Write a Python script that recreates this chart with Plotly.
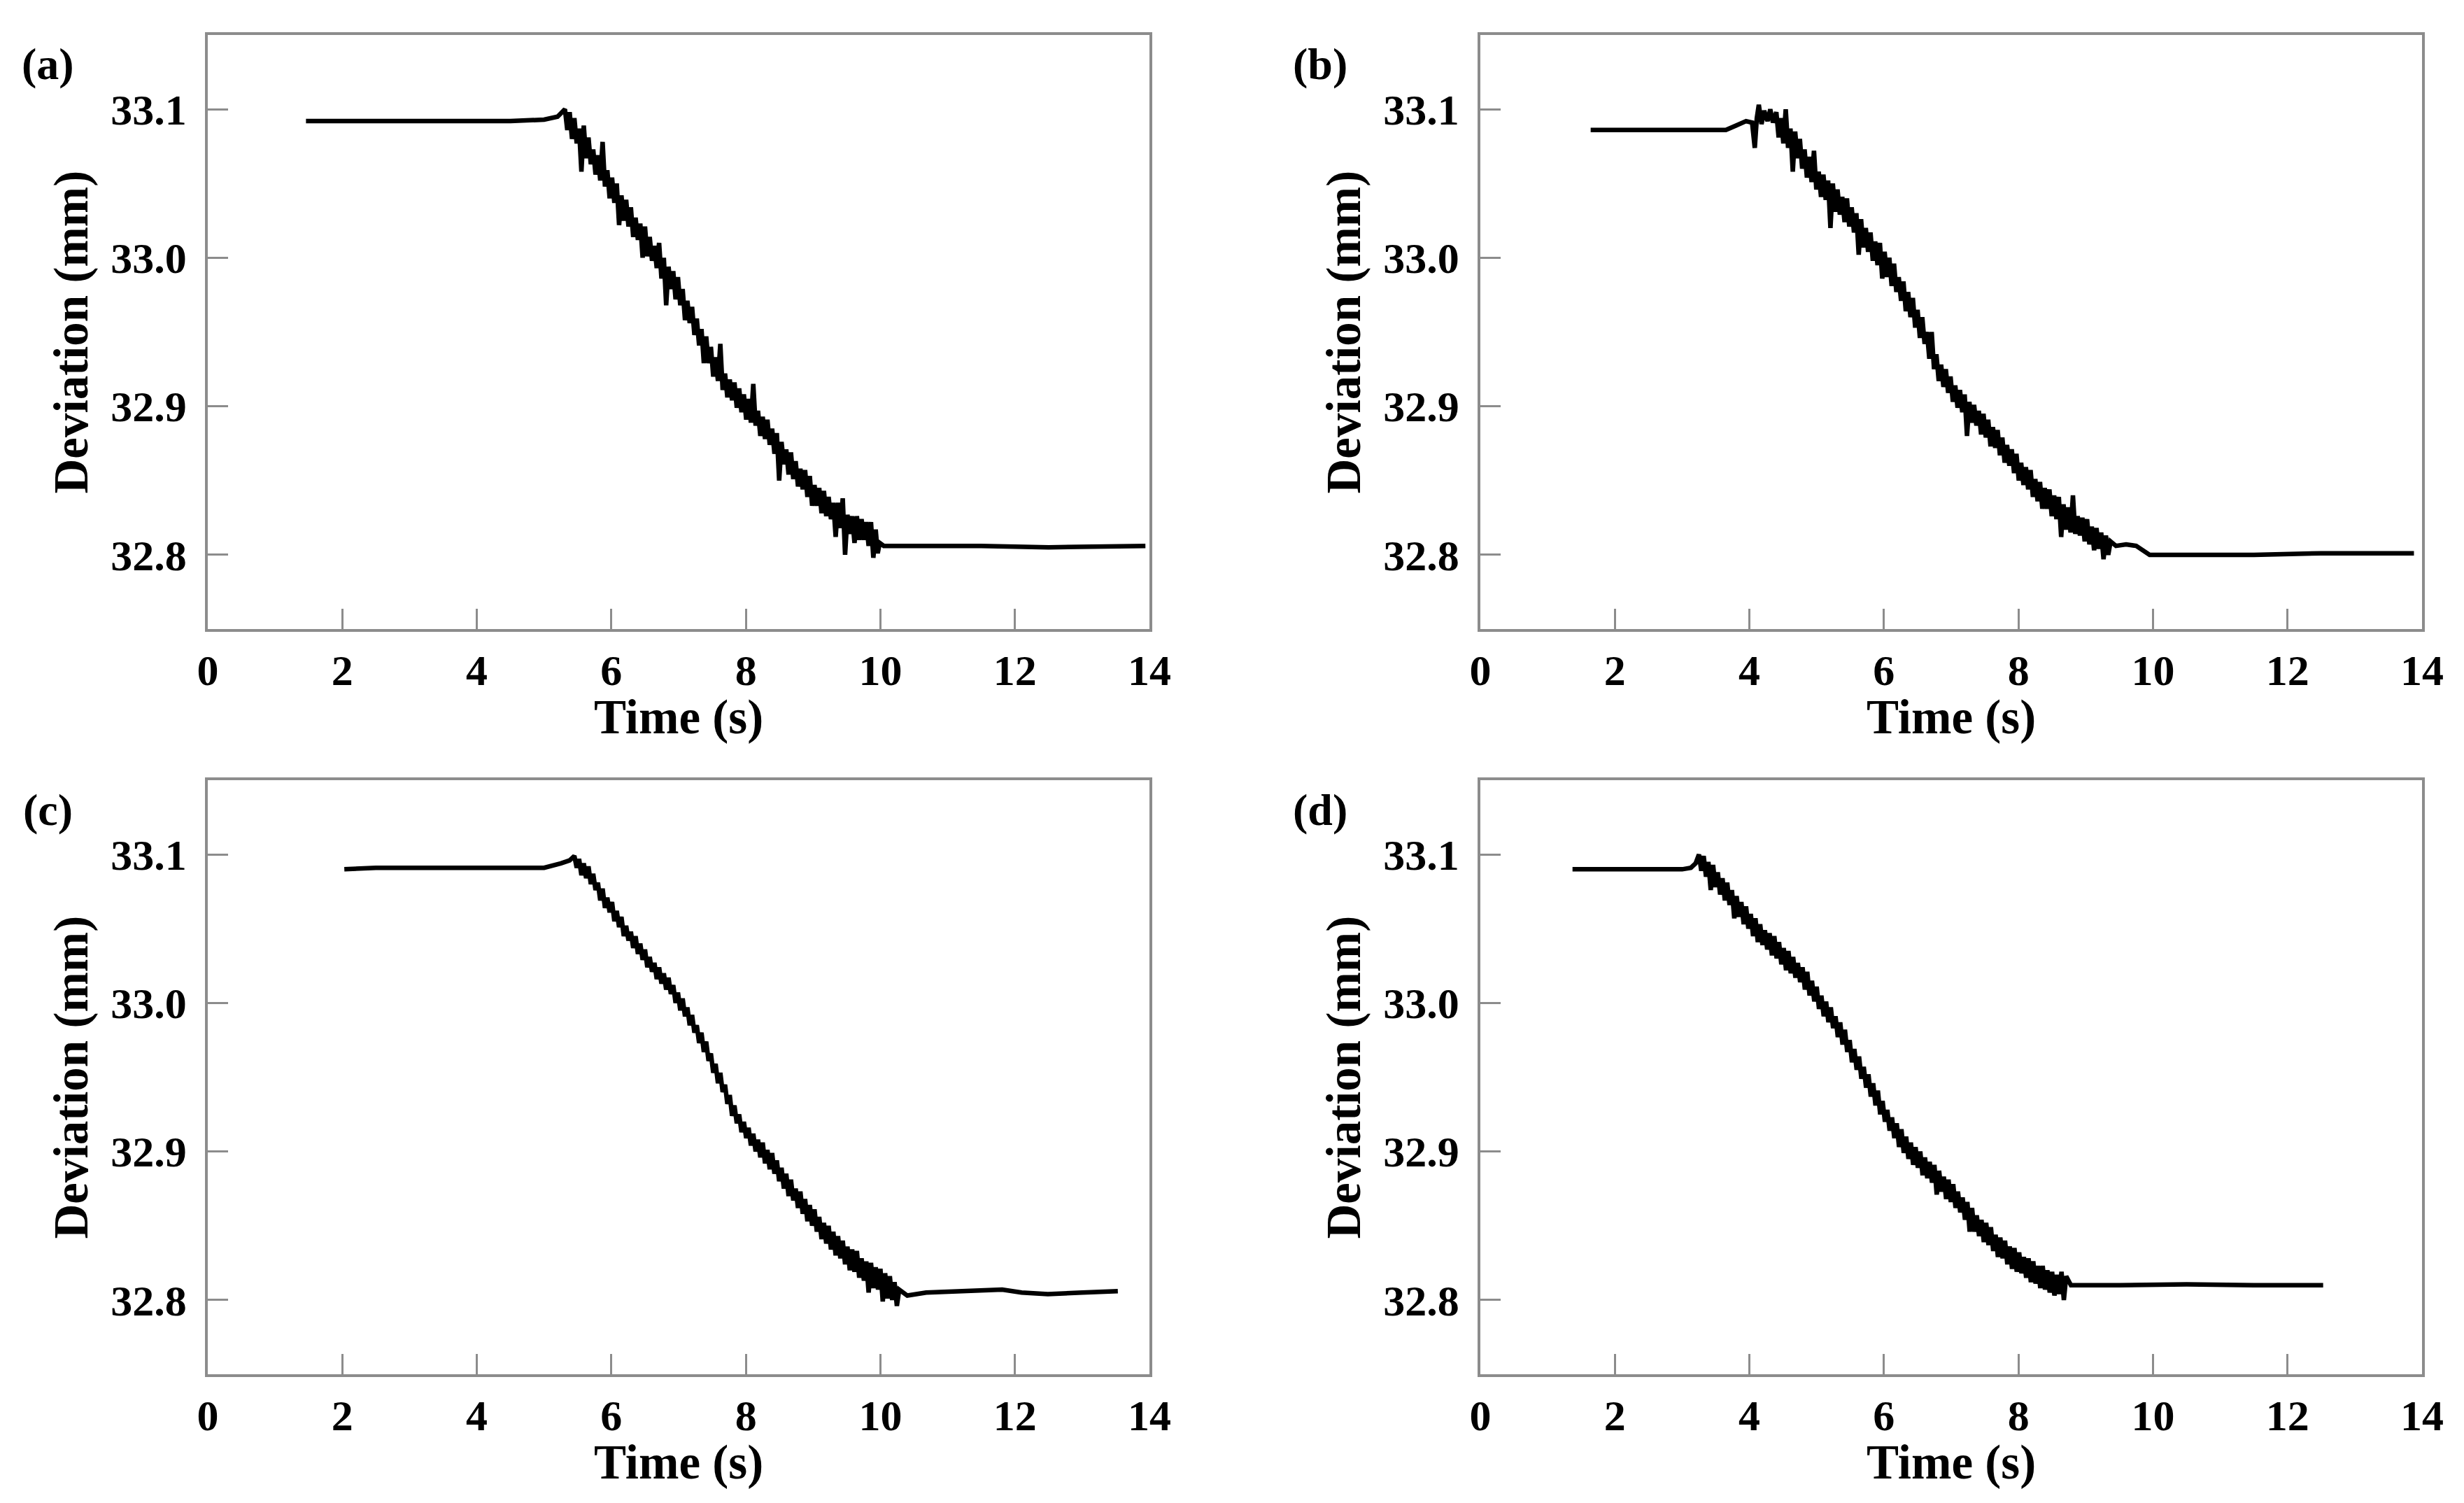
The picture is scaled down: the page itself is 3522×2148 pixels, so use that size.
import plotly.graph_objects as go

# ---------------- data ----------------
time_a = [1.46, 2.5, 3.5, 4.5, 5.0, 5.2,
          5.310, 5.345, 5.380, 5.415, 5.450, 5.485, 5.520, 5.555, 5.590, 5.625, 5.660, 5.695, 5.730, 5.765,
          5.800, 5.835, 5.870, 5.905, 5.940, 5.975, 6.010, 6.045, 6.080, 6.115, 6.150, 6.185, 6.220, 6.255,
          6.290, 6.325, 6.360, 6.395, 6.430, 6.465, 6.500, 6.535, 6.570, 6.605, 6.640, 6.675, 6.710, 6.745,
          6.780, 6.815, 6.850, 6.885, 6.920, 6.955, 6.990, 7.025, 7.060, 7.095, 7.130, 7.165, 7.200, 7.235,
          7.270, 7.305, 7.340, 7.375, 7.410, 7.445, 7.480, 7.515, 7.550, 7.585, 7.620, 7.655, 7.690, 7.725,
          7.760, 7.795, 7.830, 7.865, 7.900, 7.935, 7.970, 8.005, 8.040, 8.075, 8.110, 8.145, 8.180, 8.215,
          8.250, 8.285, 8.320, 8.355, 8.390, 8.425, 8.460, 8.495, 8.530, 8.565, 8.600, 8.635, 8.670, 8.705,
          8.740, 8.775, 8.810, 8.845, 8.880, 8.915, 8.950, 8.985, 9.020, 9.055, 9.090, 9.125, 9.160, 9.195,
          9.230, 9.265, 9.300, 9.335, 9.370, 9.405, 9.440, 9.475, 9.510, 9.545, 9.580, 9.615, 9.650, 9.685,
          9.720, 9.755, 9.790, 9.825, 9.860, 9.895, 9.930,
          9.96, 9.99, 10.05, 10.5, 11.5, 12.5, 13.94]
dev_a = [33.092, 33.092, 33.092, 33.092, 33.093, 33.095,
         33.100, 33.086, 33.098, 33.080, 33.094, 33.077, 33.087, 33.058, 33.089, 33.067, 33.081, 33.063, 33.073,
         33.056, 33.069, 33.052, 33.078, 33.048, 33.059, 33.040, 33.054, 33.037, 33.050, 33.022, 33.042, 33.025,
         33.039, 33.021, 33.034, 33.014, 33.027, 33.012, 33.023, 33.000, 33.021, 33.001, 33.014, 32.998, 33.008,
         32.993, 33.010, 32.986, 33.000, 32.968, 32.994, 32.979, 32.991, 32.972, 32.987, 32.968, 32.979, 32.958,
         32.971, 32.956, 32.967, 32.948, 32.959, 32.941, 32.952, 32.929, 32.947, 32.929, 32.940, 32.920, 32.933,
         32.917, 32.942, 32.911, 32.922, 32.906, 32.918, 32.904, 32.916, 32.899, 32.912, 32.896, 32.908, 32.891,
         32.905, 32.889, 32.915, 32.887, 32.897, 32.880, 32.893, 32.878, 32.891, 32.874, 32.885, 32.868, 32.882,
         32.850, 32.876, 32.861, 32.871, 32.854, 32.869, 32.851, 32.863, 32.846, 32.858, 32.844, 32.857, 32.839,
         32.853, 32.833, 32.847, 32.833, 32.845, 32.828, 32.843, 32.826, 32.839, 32.824, 32.835, 32.812, 32.835,
         32.818, 32.838, 32.800, 32.827, 32.814, 32.826, 32.808, 32.826, 32.810, 32.824, 32.810, 32.822, 32.806,
         32.822, 32.798, 32.817,
         32.801, 32.808, 32.806, 32.806, 32.806, 32.805, 32.806]

time_b = [1.64, 2.5, 3.0, 3.65, 3.8, 3.95, 4.04, 4.08, 4.11, 4.14, 4.18, 4.22, 4.27, 4.31, 4.35,
          4.400, 4.435, 4.470, 4.505, 4.540, 4.575, 4.610, 4.645, 4.680, 4.715, 4.750, 4.785, 4.820, 4.855,
          4.890, 4.925, 4.960, 4.995, 5.030, 5.065, 5.100, 5.135, 5.170, 5.205, 5.240, 5.275, 5.310, 5.345,
          5.380, 5.415, 5.450, 5.485, 5.520, 5.555, 5.590, 5.625, 5.660, 5.695, 5.730, 5.765, 5.800, 5.835,
          5.870, 5.905, 5.940, 5.975, 6.010, 6.045, 6.080, 6.115, 6.150, 6.185, 6.220, 6.255, 6.290, 6.325,
          6.360, 6.395, 6.430, 6.465, 6.500, 6.535, 6.570, 6.605, 6.640, 6.675, 6.710, 6.745, 6.780, 6.815,
          6.850, 6.885, 6.920, 6.955, 6.990, 7.025, 7.060, 7.095, 7.130, 7.165, 7.200, 7.235, 7.270, 7.305,
          7.340, 7.375, 7.410, 7.445, 7.480, 7.515, 7.550, 7.585, 7.620, 7.655, 7.690, 7.725, 7.760, 7.795,
          7.830, 7.865, 7.900, 7.935, 7.970, 8.005, 8.040, 8.075, 8.110, 8.145, 8.180, 8.215, 8.250, 8.285,
          8.320, 8.355, 8.390, 8.425, 8.460, 8.495, 8.530, 8.565, 8.600, 8.635, 8.670, 8.705, 8.740, 8.775,
          8.810, 8.845, 8.880, 8.915, 8.950, 8.985, 9.020, 9.055, 9.090, 9.125, 9.160, 9.195, 9.230, 9.265,
          9.300, 9.335, 9.370,
          9.45, 9.60, 9.75, 9.85, 9.95, 10.5, 11.5, 12.5, 13.88]
dev_b = [33.086, 33.086, 33.086, 33.086, 33.089, 33.092, 33.091, 33.074, 33.094, 33.103, 33.090, 33.099,
         33.092, 33.100, 33.091,
         33.098, 33.081, 33.094, 33.077, 33.100, 33.074, 33.087, 33.058, 33.085, 33.067, 33.080, 33.060, 33.073,
         33.054, 33.068, 33.051, 33.072, 33.046, 33.058, 33.041, 33.056, 33.039, 33.052, 33.020, 33.050, 33.031,
         33.046, 33.029, 33.041, 33.024, 33.040, 33.021, 33.034, 33.017, 33.030, 33.002, 33.026, 33.007, 33.020,
         33.004, 33.017, 32.998, 33.011, 32.995, 33.010, 32.986, 33.004, 32.987, 33.000, 32.981, 32.996, 32.977,
         32.987, 32.971, 32.984, 32.964, 32.977, 32.960, 32.973, 32.953, 32.965, 32.946, 32.960, 32.942, 32.950,
         32.932, 32.950, 32.925, 32.935, 32.917, 32.928, 32.913, 32.925, 32.909, 32.920, 32.903, 32.914, 32.899,
         32.911, 32.896, 32.908, 32.880, 32.903, 32.889, 32.901, 32.887, 32.897, 32.881, 32.895, 32.879, 32.891,
         32.873, 32.886, 32.872, 32.884, 32.867, 32.879, 32.862, 32.874, 32.860, 32.871, 32.855, 32.868, 32.850,
         32.862, 32.847, 32.859, 32.844, 32.857, 32.839, 32.851, 32.836, 32.849, 32.831, 32.845, 32.831, 32.844,
         32.826, 32.840, 32.824, 32.839, 32.812, 32.834, 32.817, 32.832, 32.815, 32.840, 32.814, 32.826, 32.813,
         32.825, 32.809, 32.824, 32.807, 32.819, 32.803, 32.818, 32.804, 32.815, 32.797, 32.813, 32.800, 32.809,
         32.806, 32.807, 32.806, 32.803, 32.800, 32.800, 32.800, 32.801, 32.801]

time_c = [2.03, 2.5, 3.0, 3.5, 4.0, 4.5, 5.0, 5.25, 5.38,
          5.450, 5.485, 5.520, 5.555, 5.590, 5.625, 5.660, 5.695, 5.730, 5.765, 5.800, 5.835, 5.870, 5.905,
          5.940, 5.975, 6.010, 6.045, 6.080, 6.115, 6.150, 6.185, 6.220, 6.255, 6.290, 6.325, 6.360, 6.395,
          6.430, 6.465, 6.500, 6.535, 6.570, 6.605, 6.640, 6.675, 6.710, 6.745, 6.780, 6.815, 6.850, 6.885,
          6.920, 6.955, 6.990, 7.025, 7.060, 7.095, 7.130, 7.165, 7.200, 7.235, 7.270, 7.305, 7.340, 7.375,
          7.410, 7.445, 7.480, 7.515, 7.550, 7.585, 7.620, 7.655, 7.690, 7.725, 7.760, 7.795, 7.830, 7.865,
          7.900, 7.935, 7.970, 8.005, 8.040, 8.075, 8.110, 8.145, 8.180, 8.215, 8.250, 8.285, 8.320, 8.355,
          8.390, 8.425, 8.460, 8.495, 8.530, 8.565, 8.600, 8.635, 8.670, 8.705, 8.740, 8.775, 8.810, 8.845,
          8.880, 8.915, 8.950, 8.985, 9.020, 9.055, 9.090, 9.125, 9.160, 9.195, 9.230, 9.265, 9.300, 9.335,
          9.370, 9.405, 9.440, 9.475, 9.510, 9.545, 9.580, 9.615, 9.650, 9.685, 9.720, 9.755, 9.790, 9.825,
          9.860, 9.895, 9.930, 9.965, 10.000, 10.035, 10.070, 10.105, 10.140, 10.175, 10.210, 10.245, 10.280,
          10.40, 10.68, 11.2, 11.58, 11.81, 12.1, 12.49, 13.0, 13.53]
dev_c = [33.090, 33.091, 33.091, 33.091, 33.091, 33.091, 33.091, 33.094, 33.096,
         33.099, 33.091, 33.097, 33.086, 33.094, 33.084, 33.092, 33.080, 33.087, 33.076, 33.081, 33.069, 33.077,
         33.064, 33.071, 33.061, 33.068, 33.055, 33.062, 33.051, 33.058, 33.045, 33.052, 33.042, 33.048, 33.037,
         33.045, 33.033, 33.040, 33.029, 33.036, 33.024, 33.031, 33.021, 33.027, 33.016, 33.024, 33.013, 33.020,
         33.009, 33.017, 33.006, 33.012, 33.000, 33.007, 32.995, 33.003, 32.991, 32.997, 32.985, 32.992, 32.980,
         32.985, 32.973, 32.980, 32.967, 32.974, 32.961, 32.966, 32.953, 32.959, 32.946, 32.953, 32.940, 32.945,
         32.932, 32.938, 32.924, 32.931, 32.919, 32.925, 32.913, 32.920, 32.909, 32.916, 32.904, 32.912, 32.900,
         32.908, 32.896, 32.906, 32.892, 32.901, 32.888, 32.899, 32.885, 32.894, 32.880, 32.889, 32.875, 32.885,
         32.870, 32.881, 32.867, 32.875, 32.862, 32.873, 32.858, 32.868, 32.853, 32.864, 32.850, 32.861, 32.846,
         32.856, 32.841, 32.852, 32.838, 32.850, 32.834, 32.846, 32.830, 32.843, 32.828, 32.840, 32.824, 32.836,
         32.820, 32.834, 32.819, 32.833, 32.815, 32.828, 32.813, 32.826, 32.805, 32.825, 32.808, 32.822, 32.807,
         32.821, 32.799, 32.818, 32.801, 32.816, 32.800, 32.812, 32.796, 32.807,
         32.803, 32.805, 32.806, 32.806, 32.807, 32.805, 32.804, 32.805, 32.806]

time_d = [1.37, 2.0, 2.5, 3.0, 3.13, 3.20,
          3.250, 3.285, 3.320, 3.355, 3.390, 3.425, 3.460, 3.495, 3.530, 3.565, 3.600, 3.635, 3.670, 3.705,
          3.740, 3.775, 3.810, 3.845, 3.880, 3.915, 3.950, 3.985, 4.020, 4.055, 4.090, 4.125, 4.160, 4.195,
          4.230, 4.265, 4.300, 4.335, 4.370, 4.405, 4.440, 4.475, 4.510, 4.545, 4.580, 4.615, 4.650, 4.685,
          4.720, 4.755, 4.790, 4.825, 4.860, 4.895, 4.930, 4.965, 5.000, 5.035, 5.070, 5.105, 5.140, 5.175,
          5.210, 5.245, 5.280, 5.315, 5.350, 5.385, 5.420, 5.455, 5.490, 5.525, 5.560, 5.595, 5.630, 5.665,
          5.700, 5.735, 5.770, 5.805, 5.840, 5.875, 5.910, 5.945, 5.980, 6.015, 6.050, 6.085, 6.120, 6.155,
          6.190, 6.225, 6.260, 6.295, 6.330, 6.365, 6.400, 6.435, 6.470, 6.505, 6.540, 6.575, 6.610, 6.645,
          6.680, 6.715, 6.750, 6.785, 6.820, 6.855, 6.890, 6.925, 6.960, 6.995, 7.030, 7.065, 7.100, 7.135,
          7.170, 7.205, 7.240, 7.275, 7.310, 7.345, 7.380, 7.415, 7.450, 7.485, 7.520, 7.555, 7.590, 7.625,
          7.660, 7.695, 7.730, 7.765, 7.800, 7.835, 7.870, 7.905, 7.940, 7.975, 8.010, 8.045, 8.080, 8.115,
          8.150, 8.185, 8.220, 8.255, 8.290, 8.325, 8.360, 8.395, 8.430, 8.465, 8.500, 8.535, 8.570, 8.605,
          8.640, 8.675, 8.710,
          8.78, 9.5, 10.5, 11.5, 12.53]
dev_d = [33.090, 33.090, 33.0905, 33.090, 33.091, 33.094,
         33.100, 33.089, 33.099, 33.085, 33.095, 33.076, 33.093, 33.078, 33.088, 33.073, 33.084, 33.069, 33.081,
         33.066, 33.076, 33.057, 33.072, 33.058, 33.068, 33.053, 33.065, 33.050, 33.060, 33.045, 33.057, 33.041,
         33.053, 33.039, 33.049, 33.036, 33.047, 33.032, 33.045, 33.030, 33.041, 33.026, 33.037, 33.022, 33.035,
         33.020, 33.031, 33.017, 33.027, 33.014, 33.024, 33.009, 33.021, 33.005, 33.015, 33.001, 33.011, 32.996,
         33.005, 32.991, 33.001, 32.987, 32.997, 32.983, 32.991, 32.977, 32.987, 32.972, 32.982, 32.967, 32.975,
         32.960, 32.969, 32.955, 32.964, 32.949, 32.957, 32.943, 32.952, 32.937, 32.946, 32.931, 32.941, 32.925,
         32.934, 32.920, 32.928, 32.914, 32.923, 32.909, 32.919, 32.903, 32.915, 32.899, 32.910, 32.895, 32.906,
         32.891, 32.903, 32.889, 32.900, 32.884, 32.896, 32.882, 32.893, 32.879, 32.891, 32.871, 32.887, 32.873,
         32.883, 32.868, 32.881, 32.866, 32.878, 32.862, 32.873, 32.859, 32.869, 32.854, 32.866, 32.846, 32.862,
         32.846, 32.857, 32.843, 32.854, 32.839, 32.852, 32.837, 32.849, 32.833, 32.844, 32.829, 32.842, 32.828,
         32.840, 32.824, 32.836, 32.821, 32.835, 32.819, 32.832, 32.818, 32.829, 32.815, 32.828, 32.812, 32.826,
         32.811, 32.823, 32.808, 32.823, 32.807, 32.820, 32.805, 32.819, 32.803, 32.817, 32.804, 32.819, 32.800,
         32.816,
         32.810, 32.810, 32.8105, 32.810, 32.810]

panel_labels = ["(a)", "(b)", "(c)", "(d)"]
x_ticks = [0, 2, 4, 6, 8, 10, 12, 14]
y_ticks = [32.8, 32.9, 33.0, 33.1]
x_title = "Time (s)"
y_title = "Deviation (mm)"

# ---------------- layout geometry ----------------
W, H = 3522, 2148
FONT = "Liberation Serif"
GRAY = "#8c8c8c"

col_dom = [[297 / W, 1643 / W], [2116 / W, 3462 / W]]
row_dom = [[1 - 899 / H, 1 - 50 / H], [1 - 1964 / H, 1 - 1115 / H]]

series = [(time_a, dev_a), (time_b, dev_b), (time_c, dev_c), (time_d, dev_d)]

fig = go.Figure()
layout = dict(
    width=W, height=H,
    margin=dict(l=0, r=0, t=0, b=0, pad=0),
    paper_bgcolor="white", plot_bgcolor="white",
    showlegend=False,
    annotations=[],
)

for i, (tx, vy) in enumerate(series):
    r, c = divmod(i, 2)
    xa = "x" if i == 0 else f"x{i + 1}"
    ya = "y" if i == 0 else f"y{i + 1}"
    fig.add_trace(go.Scatter(x=tx, y=vy, mode="lines", xaxis=xa, yaxis=ya,
                             line=dict(color="black", width=6.5), hoverinfo="skip"))
    common = dict(showline=True, mirror=True, linecolor=GRAY, linewidth=3.5,
                  ticks="inside", ticklen=29, tickwidth=3, tickcolor=GRAY,
                  showgrid=False, zeroline=False, automargin=False,
                  tickfont=dict(family=FONT, size=62, color="black", weight="bold"))
    layout["xaxis" if i == 0 else f"xaxis{i + 1}"] = dict(
        domain=col_dom[c], anchor=ya, range=[0, 14], tickvals=x_ticks,
        ticklabelstandoff=2, **common)
    layout["yaxis" if i == 0 else f"yaxis{i + 1}"] = dict(
        domain=row_dom[r], anchor=xa, range=[32.75, 33.15], tickvals=y_ticks,
        tickformat=".1f", ticklabelstandoff=14, **common)

    x0, x1 = col_dom[c]
    y0, y1 = row_dom[r]
    top_px = (1 - y1) * H
    bot_px = (1 - y0) * H
    left_px = x0 * W
    layout["annotations"].append(dict(
        text=x_title, xref="paper", yref="paper", showarrow=False,
        x=(x0 + x1) / 2, y=1 - (bot_px + 126) / H, xanchor="center", yanchor="middle",
        font=dict(family=FONT, size=69, color="black", weight="bold")))
    layout["annotations"].append(dict(
        text=y_title, xref="paper", yref="paper", showarrow=False, textangle=-90,
        x=(left_px - 196) / W, y=(y0 + y1) / 2, xanchor="center", yanchor="middle",
        font=dict(family=FONT, size=69, color="black", weight="bold")))
    layout["annotations"].append(dict(
        text=panel_labels[i], xref="paper", yref="paper", showarrow=False,
        x=(left_px - 229) / W, y=1 - (top_px + 42) / H, xanchor="center", yanchor="middle",
        font=dict(family=FONT, size=64, color="black", weight="bold")))

fig.update_layout(**layout)
fig.write_html("out.html", config={"displayModeBar": False},
               post_script="document.body.style.margin='0';document.body.style.overflow='hidden';")
